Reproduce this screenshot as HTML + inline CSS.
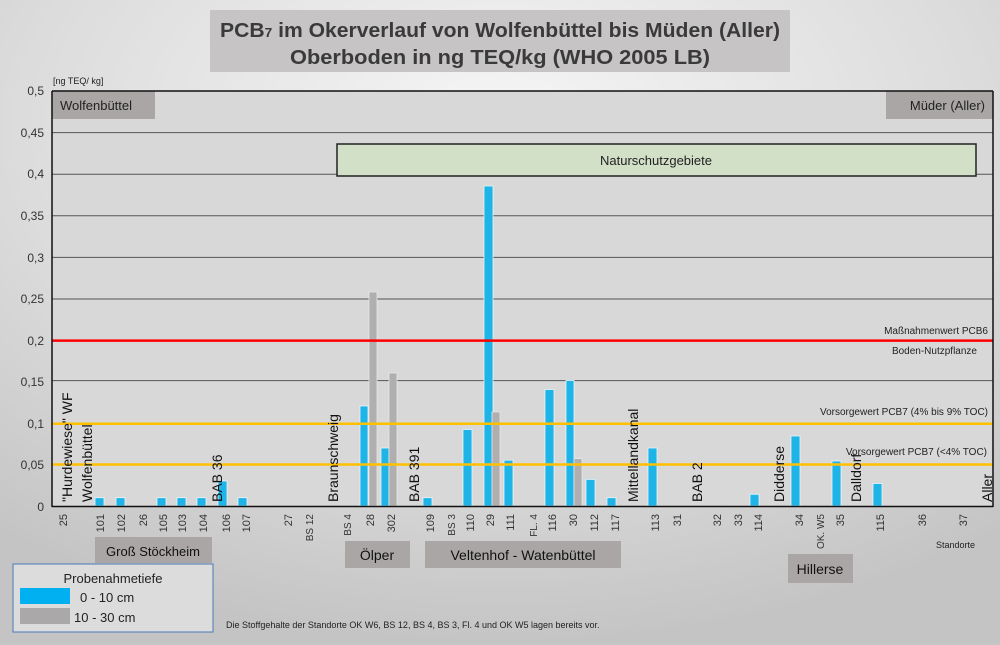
<!DOCTYPE html>
<html><head><meta charset="utf-8"><style>
html,body{margin:0;padding:0;width:1000px;height:645px;overflow:hidden}
svg{display:block}
text{font-family:"Liberation Sans",sans-serif}
</style></head><body>
<svg width="1000" height="645" viewBox="0 0 1000 645" xmlns="http://www.w3.org/2000/svg">
<defs>
<radialGradient id="bg" cx="0.5" cy="0.2" r="0.8">
<stop offset="0" stop-color="#f6f6f6"/><stop offset="0.6" stop-color="#dcdcdc"/><stop offset="1" stop-color="#c4c4c4"/>
</radialGradient>
</defs>
<rect width="1000" height="645" fill="url(#bg)"/>
<!-- title -->
<rect x="210" y="10" width="580" height="62" fill="#c6c4c4"/>
<text x="500" y="37" text-anchor="middle" font-size="20" font-weight="bold" fill="#3a3a3a" textLength="560" lengthAdjust="spacingAndGlyphs">PCB<tspan font-size="13">7</tspan> im Okerverlauf von Wolfenbüttel bis Müden (Aller)</text>
<text x="500" y="64" text-anchor="middle" font-size="20" font-weight="bold" fill="#3a3a3a" textLength="420" lengthAdjust="spacingAndGlyphs">Oberboden in ng TEQ/kg (WHO 2005 LB)</text>
<text x="53" y="84" font-size="9" fill="#222">[ng TEQ/ kg]</text>
<!-- plot -->
<rect x="52" y="91" width="941" height="415" fill="#d8d8d8"/>
<g stroke="#555" stroke-width="1">
<line x1="52" y1="132.6" x2="993" y2="132.6"/><line x1="52" y1="174.2" x2="993" y2="174.2"/>
<line x1="52" y1="215.8" x2="993" y2="215.8"/><line x1="52" y1="257.4" x2="993" y2="257.4"/>
<line x1="52" y1="299" x2="993" y2="299"/><line x1="52" y1="380.6" x2="993" y2="380.6"/>
</g>
<g font-size="12" fill="#333" text-anchor="end">
<text x="44" y="95">0,5</text><text x="44" y="137">0,45</text><text x="44" y="178">0,4</text>
<text x="44" y="220">0,35</text><text x="44" y="262">0,3</text><text x="44" y="303">0,25</text>
<text x="44" y="345">0,2</text><text x="44" y="386">0,15</text><text x="44" y="428">0,1</text>
<text x="44" y="469">0,05</text><text x="44" y="511">0</text>
</g>
<!-- boxes -->
<rect x="52" y="91" width="103" height="28" fill="#aaa6a6"/>
<text x="60" y="110" font-size="13" fill="#222">Wolfenbüttel</text>
<rect x="886" y="91" width="107" height="28" fill="#aaa6a6"/>
<text x="985" y="110" font-size="13" fill="#222" text-anchor="end">Müder (Aller)</text>
<rect x="337" y="144" width="639" height="32" fill="#d2e0c8" stroke="#222" stroke-width="1.5"/>
<text x="656" y="165" font-size="13" fill="#222" text-anchor="middle">Naturschutzgebiete</text>
<!-- bars blue -->
<g fill="#1eb4e8" stroke="#e8f4f8" stroke-width="0.8">
<rect x="95" y="497.7" width="9" height="8.3"/><rect x="116" y="497.7" width="9" height="8.3"/>
<rect x="157" y="497.7" width="9" height="8.3"/><rect x="177" y="497.7" width="9" height="8.3"/>
<rect x="197" y="497.7" width="9" height="8.3"/><rect x="218" y="481" width="9" height="25"/>
<rect x="238" y="497.7" width="9" height="8.3"/><rect x="360" y="406" width="8" height="100"/>
<rect x="381" y="448" width="8" height="58"/><rect x="423" y="497.7" width="9" height="8.3"/>
<rect x="463" y="429.5" width="9" height="76.5"/><rect x="484" y="186" width="9" height="320"/>
<rect x="504" y="460.2" width="9" height="45.8"/><rect x="545" y="389.5" width="9" height="116.5"/>
<rect x="566" y="380.4" width="8" height="125.6"/><rect x="586" y="479.4" width="9" height="26.6"/>
<rect x="607" y="497.7" width="9" height="8.3"/><rect x="648" y="448" width="9" height="58"/>
<rect x="750" y="494.3" width="9" height="11.7"/><rect x="791" y="436" width="9" height="70"/>
<rect x="832" y="461" width="9" height="45"/><rect x="873" y="483.5" width="9" height="22.5"/>
</g>
<g fill="#b0aeae" stroke="#e8e8e8" stroke-width="0.8">
<rect x="369" y="292" width="8" height="214"/><rect x="389" y="373" width="8" height="133"/>
<rect x="492" y="412" width="8" height="94"/><rect x="574" y="458.6" width="8" height="47.4"/>
</g>
<!-- reference lines -->
<line x1="52" y1="340.6" x2="993" y2="340.6" stroke="#ff0000" stroke-width="2.5"/>
<line x1="52" y1="423.8" x2="993" y2="423.8" stroke="#ffc000" stroke-width="2.5"/>
<line x1="52" y1="464.5" x2="993" y2="464.5" stroke="#ffc000" stroke-width="2.5"/>
<g font-size="10" fill="#222" text-anchor="end">
<text x="988" y="334">Maßnahmenwert PCB6</text>
<text x="977" y="354">Boden-Nutzpflanze</text>
<text x="988" y="415">Vorsorgewert PCB7 (4% bis 9% TOC)</text>
<text x="987" y="455">Vorsorgewert PCB7 (&lt;4% TOC)</text>
</g>
<!-- axes frame -->
<line x1="52" y1="91" x2="993" y2="91" stroke="#111" stroke-width="1.5"/>
<line x1="52" y1="91" x2="52" y2="507" stroke="#111" stroke-width="1.5"/>
<line x1="993" y1="91" x2="993" y2="507" stroke="#111" stroke-width="1.5"/>
<line x1="52" y1="506.5" x2="993" y2="506.5" stroke="#111" stroke-width="1.5"/>
<!-- vertical annotations -->
<g font-size="14" fill="#111">
<text transform="translate(72,502) rotate(-90)">"Hurdewiese" WF</text>
<text transform="translate(92,502) rotate(-90)">Wolfenbüttel</text>
<text transform="translate(222,502) rotate(-90)">BAB 36</text>
<text transform="translate(338,502) rotate(-90)">Braunschweig</text>
<text transform="translate(419,502) rotate(-90)">BAB 391</text>
<text transform="translate(638,502) rotate(-90)">Mittellandkanal</text>
<text transform="translate(702,502) rotate(-90)">BAB 2</text>
<text transform="translate(784,502) rotate(-90)">Didderse</text>
<text transform="translate(861,502) rotate(-90)">Dalldorf</text>
<text transform="translate(992,502) rotate(-90)">Aller</text>
</g>
<!-- x labels -->
<g font-size="11" fill="#333" text-anchor="end">
<text transform="translate(67,514) rotate(-90)">25</text>
<text transform="translate(104,514) rotate(-90)">101</text>
<text transform="translate(125,514) rotate(-90)">102</text>
<text transform="translate(147,514) rotate(-90)">26</text>
<text transform="translate(167,514) rotate(-90)">105</text>
<text transform="translate(186,514) rotate(-90)">103</text>
<text transform="translate(207,514) rotate(-90)">104</text>
<text transform="translate(230,514) rotate(-90)">106</text>
<text transform="translate(250,514) rotate(-90)">107</text>
<text transform="translate(292,514) rotate(-90)">27</text>
<text transform="translate(313,514) rotate(-90)" font-size="10">BS 12</text>
<text transform="translate(351,514) rotate(-90)" font-size="10">BS 4</text>
<text transform="translate(374,514) rotate(-90)">28</text>
<text transform="translate(395,514) rotate(-90)">302</text>
<text transform="translate(434,514) rotate(-90)">109</text>
<text transform="translate(455,514) rotate(-90)" font-size="10">BS 3</text>
<text transform="translate(474,514) rotate(-90)">110</text>
<text transform="translate(494,514) rotate(-90)">29</text>
<text transform="translate(514,514) rotate(-90)">111</text>
<text transform="translate(537,514) rotate(-90)" font-size="10">FL. 4</text>
<text transform="translate(556,514) rotate(-90)">116</text>
<text transform="translate(577,514) rotate(-90)">30</text>
<text transform="translate(598,514) rotate(-90)">112</text>
<text transform="translate(619,514) rotate(-90)">117</text>
<text transform="translate(659,514) rotate(-90)">113</text>
<text transform="translate(681,514) rotate(-90)">31</text>
<text transform="translate(721,514) rotate(-90)">32</text>
<text transform="translate(742,514) rotate(-90)">33</text>
<text transform="translate(762,514) rotate(-90)">114</text>
<text transform="translate(803,514) rotate(-90)">34</text>
<text transform="translate(824,514) rotate(-90)" font-size="10">OK. W5</text>
<text transform="translate(844,514) rotate(-90)">35</text>
<text transform="translate(884,514) rotate(-90)">115</text>
<text transform="translate(926,514) rotate(-90)">36</text>
<text transform="translate(967,514) rotate(-90)">37</text>
</g>
<text x="936" y="548" font-size="9" fill="#222">Standorte</text>
<!-- group boxes -->
<rect x="95" y="537" width="117" height="26" fill="#aaa6a6"/>
<text x="153" y="556" font-size="13" fill="#111" text-anchor="middle">Groß Stöckheim</text>
<rect x="345" y="541" width="65" height="27" fill="#aaa6a6"/>
<text x="377" y="560" font-size="14" fill="#111" text-anchor="middle">Ölper</text>
<rect x="425" y="541" width="196" height="27" fill="#aaa6a6"/>
<text x="523" y="560" font-size="14" fill="#111" text-anchor="middle">Veltenhof - Watenbüttel</text>
<rect x="788" y="554" width="65" height="29" fill="#aaa6a6"/>
<text x="820" y="574" font-size="14" fill="#111" text-anchor="middle">Hillerse</text>
<!-- legend -->
<rect x="13" y="564" width="200" height="68" fill="#dcdcdc" stroke="#4a7ab8" stroke-width="1"/>
<text x="113" y="583" font-size="13" fill="#222" text-anchor="middle">Probenahmetiefe</text>
<rect x="20" y="588" width="50" height="16" fill="#00b0f0"/>
<text x="80" y="602" font-size="13" fill="#222">0 - 10 cm</text>
<rect x="20" y="608" width="50" height="16" fill="#aaa8a8"/>
<text x="74" y="622" font-size="13" fill="#222">10 - 30 cm</text>
<text x="226" y="628" font-size="9" fill="#222">Die Stoffgehalte der Standorte OK W6, BS 12, BS 4, BS 3, Fl. 4 und OK W5 lagen bereits vor.</text>
</svg>
</body></html>
